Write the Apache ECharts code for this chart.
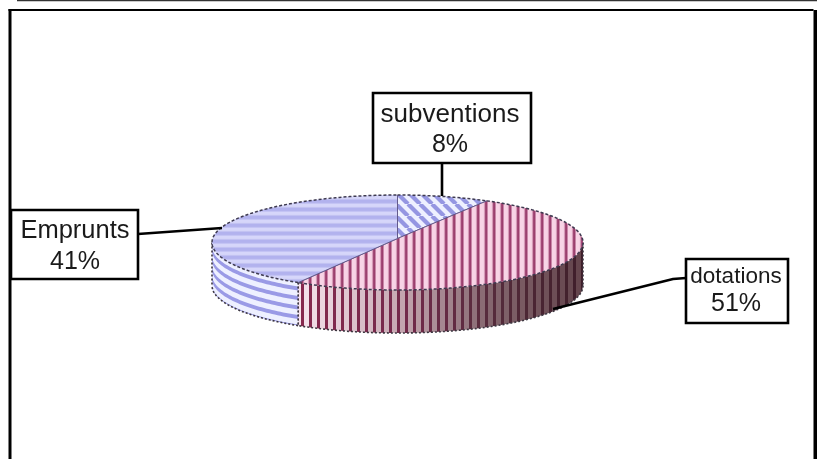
<!DOCTYPE html>
<html><head><meta charset="utf-8">
<style>html,body{margin:0;padding:0;background:#fff}#c{width:817px;height:459px}</style>
<script src="https://cdn.jsdelivr.net/npm/echarts@6/dist/echarts.min.js"></script>
</head><body><div id="c"></div>
<script>
const categories = ['subventions', 'dotations', 'Emprunts'];
const shares = [8, 51, 41];

// Geometry of the tilted disc
const cx = 397.5, cy = 242.5, rx = 185.5, ry = 47.5, depth = 43;
// Label boxes, per category
const layout = [
  {box:[373,93,158,70], nameY:115, valY:145, cxT:450, nameSize:26, valSize:25, leader:[[442,163],[442,196]]},
  {box:[686,259,102,64], nameY:277, valY:304, cxT:736, nameSize:22.5, valSize:25, leader:[[686,278],[673,279],[553,309]]},
  {box:[11,210,127,69], nameY:231, valY:262, cxT:75, nameSize:25.5, valSize:25, leader:[[138,234],[222,228]]}
];

function tile(w, h, draw) {
  const c = document.createElement('canvas'); c.width = w; c.height = h;
  draw(c.getContext('2d'), w, h); return {image: c, repeat: 'repeat'};
}
const patterns = [
  tile(12, 12, (g, w, h) => {
    g.fillStyle = '#eef0ff'; g.fillRect(0,0,w,h);
    g.strokeStyle = '#9596e2'; g.lineWidth = 4.2;
    [-12,0,12].forEach(o => { g.beginPath(); g.moveTo(o,0); g.lineTo(o+12,12); g.stroke(); });
  }),
  tile(8, 8, (g, w, h) => {
    ['#f8d4e6','#f8d4e6','#f8d4e6','#f4cfe2','#d79ab8','#a24a78','#9c3f6e','#c986a8'].forEach((col,k) => {
      g.fillStyle = col; g.fillRect(k,0,1,h);
    });
  }),
  tile(8, 8, (g, w, h) => {
    ['#b2b2ee','#b2b2ee','#b4b4ee','#c4c4f4','#d6d6fa','#d6d6fa','#d4d4f8','#c2c2f2'].forEach((col,k) => {
      g.fillStyle = col; g.fillRect(0,k,w,1);
    });
  })
];
const mix = (stops, t) => {
  const n = stops.length - 1, p = Math.min(n - 1e-6, Math.max(0, t * n)), i = Math.floor(p), f = p - i;
  const a = stops[i], b = stops[i+1];
  return 'rgb(' + a.map((v,k) => Math.round(v + (b[k]-v)*f)).join(',') + ')';
};
const redLight = [[246,226,236],[200,170,180],[132,102,110],[98,66,74]];
const redDark  = [[134,40,78],[118,42,76],[86,44,60],[62,30,42]];

const pt = a => [cx + rx*Math.sin(a), cy - ry*Math.cos(a)];
const arc = (a0, a1, step) => {
  const out = [], n = Math.max(2, Math.ceil(Math.abs(a1-a0)/(step||0.02)));
  for (let i = 0; i <= n; i++) out.push(pt(a0 + (a1-a0)*i/n));
  return out;
};
const total = shares.reduce((s,v) => s+v, 0);
const starts = shares.reduce((acc,v) => (acc.push(acc[acc.length-1]+v), acc), [0]);
const bandPts = (a0, a1, d0, d1) => {
  const t = arc(a0,a1).map(p => [p[0], p[1]+d0]);
  const b = arc(a1,a0).map(p => [p[0], p[1]+d1]);
  return t.concat(b);
};
const edgeStyle = {fill:null, stroke:'#3c3640', lineWidth:1.6, lineDash:[2,2]};

function renderItem(params, api) {
  const i = params.dataIndex, v = api.value(1);
  const a0 = starts[i]/total*2*Math.PI, a1 = a0 + v/total*2*Math.PI;
  const children = [];
  const lo = Math.max(a0, Math.PI/2), hi = Math.min(a1, 3*Math.PI/2);
  if (hi > lo) {
    if (i === 2) { // blue rim: curved bands
      children.push({type:'polygon', shape:{points:bandPts(lo,hi,0,depth)}, style:{fill:'#eef0ff'}});
      for (let d = 4; d < depth; d += 9.5) {
        const w = Math.min(4, depth-d);
        children.push({type:'polygon', shape:{points:bandPts(lo,hi,d,d+w)}, style:{fill:'#9a9ae6'}});
      }
    } else { // red rim: vertical bars darkening to the right
      const xL = pt(hi)[0], xR = pt(lo)[0];
      const yAt = x => cy + ry*Math.sqrt(Math.max(0, 1-((x-cx)/rx)**2));
      for (let x = Math.floor(xL/8)*8; x < xR; x += 8) {
        [[0,5,redLight],[5,8,redDark]].forEach(([s,e,cols]) => {
          const l = Math.max(xL, x+s), r = Math.min(xR, x+e);
          if (r <= l) return;
          const pts = [];
          for (let k = 0; k <= 3; k++) { const q = l+(r-l)*k/3; pts.push([q, yAt(q)]); }
          for (let k = 3; k >= 0; k--) { const q = l+(r-l)*k/3; pts.push([q, yAt(q)+depth]); }
          children.push({type:'polygon', shape:{points:pts}, style:{fill:mix(cols,(x+s-xL)/(xR-xL))}});
        });
      }
    }
    children.push({type:'polyline', shape:{points:arc(lo,hi).map(p=>[p[0],p[1]+depth])}, style:edgeStyle});
    const e = pt(hi);
    children.push({type:'polyline', shape:{points:[e,[e[0],e[1]+depth]]}, style:edgeStyle});
    const s = pt(lo);
    children.push({type:'polyline', shape:{points:[s,[s[0],s[1]+depth]]}, style:edgeStyle});
  }
  // top face
  const top = [[cx,cy-4]].concat(arc(a0,a1));
  children.push({type:'polygon', shape:{points:top}, style:{fill:patterns[i]}});
  children.push({type:'polyline', shape:{points:arc(a0,a1)},
    style:{fill:null, stroke:'#3e3a50', lineWidth:1.5, lineDash:[3,2]}});
  children.push({type:'polyline', shape:{points:[pt(a0),[cx,cy-4],pt(a1)]},
    style:{fill:null, stroke:'#5e5484', lineWidth:0.9}});
  // leader and label box
  const L = layout[i];
  children.push({type:'polyline', shape:{points:L.leader}, style:{fill:null, stroke:'#000', lineWidth:2.6}});
  children.push({type:'rect', shape:{x:L.box[0],y:L.box[1],width:L.box[2],height:L.box[3]},
    style:{fill:'#fff', stroke:'#000', lineWidth:2.6}});
  children.push({type:'text', style:{text:categories[i], x:L.cxT, y:L.nameY, textAlign:'center', textVerticalAlign:'middle',
    fontFamily:'Liberation Sans', fontSize:L.nameSize, fill:'#1a1a1a'}});
  children.push({type:'text', style:{text:v+'%', x:L.cxT, y:L.valY, textAlign:'center', textVerticalAlign:'middle',
    fontFamily:'Liberation Sans', fontSize:L.valSize, fill:'#1a1a1a'}});
  return {type:'group', children};
}

const chart = echarts.init(document.getElementById('c'), null, {renderer:'canvas'});
chart.setOption({
  animation:false,
  backgroundColor:'#fff',
  graphic:[
    {type:'rect', z:0, shape:{x:17,y:0,width:800,height:1.2}, style:{fill:'#333'}},
    {type:'rect', z:0, shape:{x:8.5,y:9,width:805,height:2}, style:{fill:'#000'}},
    {type:'rect', z:0, shape:{x:8.5,y:9,width:3,height:450}, style:{fill:'#000'}},
    {type:'rect', z:0, shape:{x:813.5,y:10,width:3.5,height:449}, style:{fill:'#000'}}
  ],
  series:[{
    type:'custom', coordinateSystem:'none', renderItem, silent:true, z:5,
    data: shares.map((v,i) => [i,v])
  }]
});
</script></body></html>
